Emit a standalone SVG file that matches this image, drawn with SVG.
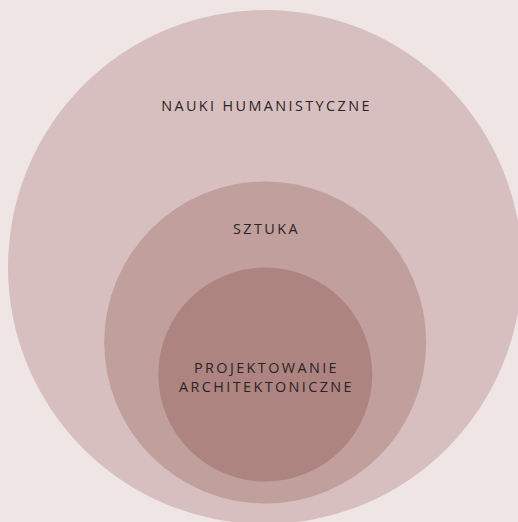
<svg xmlns="http://www.w3.org/2000/svg" width="518" height="522" viewBox="0 0 518 522">
<style>
text{font-family:"Open Sans","Noto Sans",sans-serif;font-size:14.4px;fill:#2b2426;letter-spacing:2.4px;text-anchor:middle}
</style>
<rect width="518" height="522" fill="#efe5e4"/>
<g id="nauki"><circle cx="265" cy="267" r="257" fill="#d7bfbf"/><text x="266.5" y="111">NAUKI HUMANISTYCZNE</text></g>
<g id="sztuka"><circle cx="265.2" cy="342.5" r="161" fill="#c19f9d"/><text x="266.5" y="234">SZTUKA</text></g>
<g id="projektowanie"><circle cx="265.3" cy="374.5" r="107" fill="#ad8480"/><text x="266.5" y="373">PROJEKTOWANIE</text><text x="266.5" y="392">ARCHITEKTONICZNE</text></g>
<g id="connectors"/>
</svg>
